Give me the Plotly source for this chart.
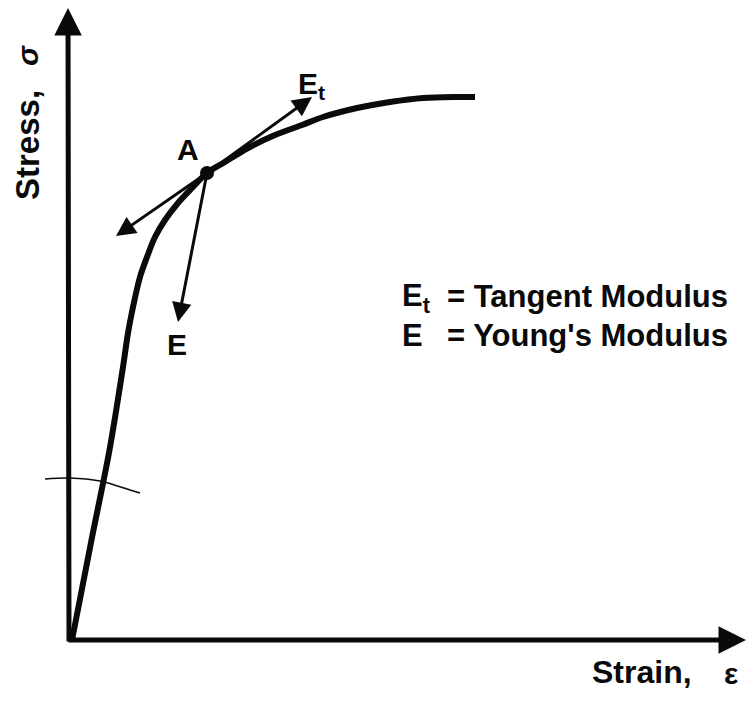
import plotly.graph_objects as go

# Stress-strain curve (arbitrary units)
strain = [0.02, 0.215, 0.395, 0.53, 0.58, 0.63, 0.70, 0.77, 0.85, 0.95, 1.08, 1.22,
          1.37, 1.55, 1.78, 2.05, 2.32, 2.53, 2.87, 3.20, 3.53, 3.87, 4.05]
stress = [0.00, 1.00, 1.90, 2.73, 3.07, 3.33, 3.63, 3.83, 4.03, 4.20, 4.37, 4.52,
          4.67, 4.78, 4.92, 5.05, 5.15, 5.23, 5.32, 5.38, 5.42, 5.43, 5.43]

# Point A and the modulus arrows
point_a = (1.37, 4.67)
tangent_tip_up = (2.42, 5.43)
tangent_tip_down = (0.46, 4.04)
young_tip = (1.08, 3.18)

# Small arc near the linear part
arc_strain = [-0.25, 0.00, 0.30, 0.60, 0.70]
arc_stress = [1.61, 1.62, 1.59, 1.50, 1.47]

# Axis extents
x_axis_end = 6.76
y_axis_end = 6.32

FONT = "Liberation Sans, Arial, Helvetica, sans-serif"
INK = "#0a0a0a"

fig = go.Figure()

fig.add_trace(go.Scatter(x=strain, y=stress, mode="lines",
                         line=dict(color=INK, width=6, shape="spline", smoothing=0.9),
                         hoverinfo="skip"))
fig.add_trace(go.Scatter(x=arc_strain, y=arc_stress, mode="lines",
                         line=dict(color=INK, width=1.5, shape="spline"),
                         hoverinfo="skip"))
fig.add_trace(go.Scatter(x=[point_a[0]], y=[point_a[1]], mode="markers",
                         marker=dict(color=INK, size=14), hoverinfo="skip"))

def arrow(tip, tail, width, head, size):
    fig.add_annotation(x=tip[0], y=tip[1], ax=tail[0], ay=tail[1],
                       xref="x", yref="y", axref="x", ayref="y",
                       text="", showarrow=True, arrowhead=head,
                       arrowwidth=width, arrowsize=size, arrowcolor=INK)

# axes
arrow((-0.02, y_axis_end), (-0.01, -0.03), 5, 2, 1.1)
arrow((x_axis_end, 0.0), (-0.03, 0.0), 5, 2, 1.1)
# tangent modulus (double arrow) and Young's modulus
arrow(tangent_tip_up, point_a, 3, 2, 1.3)
arrow(tangent_tip_down, point_a, 3, 2, 1.3)
arrow(young_tip, point_a, 3, 2, 1.3)

def label(x, y, text, size, xanchor="center", yanchor="middle", angle=0):
    fig.add_annotation(x=x, y=y, xref="x", yref="y", text=text, showarrow=False,
                       xanchor=xanchor, yanchor=yanchor, textangle=angle,
                       font=dict(family=FONT, size=size, color=INK))

label(1.18, 4.91, "<b>A</b>", 30)
label(1.07, 2.96, "<b>E</b>", 30)
label(2.26, 5.55, "<b>E<sub>t</sub></b>", 30, xanchor="left")

label(3.30, 3.42, "<b>E<sub>t</sub></b>", 31, xanchor="left")
label(3.75, 3.44, "<b>= Tangent Modulus</b>", 31, xanchor="left")
label(3.30, 3.05, "<b>E</b>", 31, xanchor="left")
label(3.75, 3.05, "<b>= Young's Modulus</b>", 31, xanchor="left")

label(5.20, -0.32, "<b>Strain,</b>", 32, xanchor="left")
label(6.61, -0.33, "<b>ε</b>", 30)
label(-0.43, 4.95, "<b>Stress,</b>", 33, angle=-90)
label(-0.43, 5.84, "<b><i>σ</i></b>", 30, angle=-90)

fig.update_layout(
    width=747, height=702, margin=dict(l=0, r=0, t=0, b=0),
    paper_bgcolor="white", plot_bgcolor="white", showlegend=False,
    xaxis=dict(range=[-0.70, 6.77], visible=False, fixedrange=True),
    yaxis=dict(range=[-0.62, 6.40], visible=False, fixedrange=True),
)

fig.write_html("out.html", config={"displayModeBar": False},
               post_script="document.body.style.margin='0px';document.body.style.overflow='hidden';")
